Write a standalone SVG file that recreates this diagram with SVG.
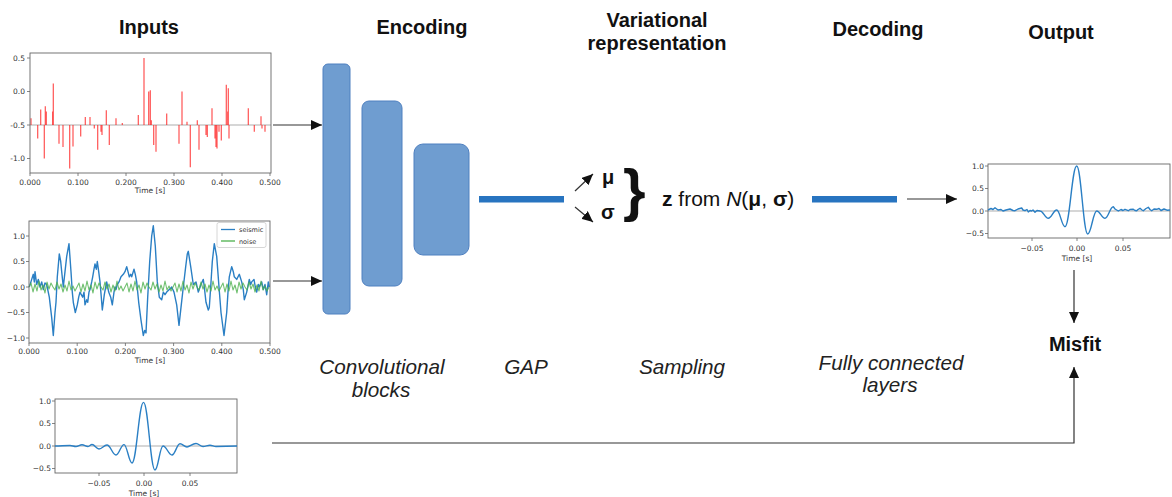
<svg xmlns="http://www.w3.org/2000/svg" xmlns:xlink="http://www.w3.org/1999/xlink" width="1172" height="497" viewBox="0 0 1172 497">
<style>
.tick{font-family:"DejaVu Sans",sans-serif;font-size:7.5px;fill:#333}
.r{text-anchor:end}
.c{text-anchor:middle}
.frame{fill:none;stroke:#666;stroke-width:0.9}
.tm{stroke:#666;stroke-width:0.8}
.zero{stroke:#c8c8c8;stroke-width:1.3}
.title{font-family:"Liberation Sans",Arial,sans-serif;font-weight:bold;font-size:20px;fill:#111;text-anchor:middle}
.lab{font-family:"Liberation Sans",Arial,sans-serif;font-style:italic;font-size:20.7px;fill:#222;text-anchor:middle}
.blk{fill:#6f9dd0;stroke:#4f80c0;stroke-width:1}
.bar{stroke:#2874c0;stroke-width:6.5}
.wave{fill:none;stroke:#2a7fc4;stroke-width:1.4;stroke-linejoin:round}
.conn{fill:none;stroke:#333;stroke-width:1.2}
.math{font-family:"Liberation Sans",Arial,sans-serif;fill:#111}
</style>
<defs>
<marker id="ah" markerUnits="userSpaceOnUse" markerWidth="12" markerHeight="10" refX="11" refY="5" orient="auto">
<path d="M0,0 L11,5 L0,10 z" fill="#111"/>
</marker>
<g id="wavAxes">
<line class="zero" x1="55" y1="446" x2="237" y2="446"/>
<rect class="frame" x="55" y="399" width="182" height="74"/>
<path class="tm" d="M52,401H55M52,423.5H55M52,446H55M52,468.5H55M99,473V476M144,473V476M190,473V476"/>
<text class="tick r" x="51" y="403.7">1.0</text>
<text class="tick r" x="51" y="426.2">0.5</text>
<text class="tick r" x="51" y="448.7">0.0</text>
<text class="tick r" x="51" y="471.2">−0.5</text>
<text class="tick c" x="99" y="486">−0.05</text>
<text class="tick c" x="144" y="486">0.00</text>
<text class="tick c" x="190" y="486">0.05</text>
<text class="tick c" x="144" y="495.5">Time [s]</text>
</g>
</defs>
<rect width="1172" height="497" fill="#fff"/>

<g id="titles">
<text class="title" x="149" y="34">Inputs</text>
<text class="title" x="422" y="34">Encoding</text>
<text class="title" x="657" y="26.5">Variational</text>
<text class="title" x="657" y="50">representation</text>
<text class="title" x="878" y="36">Decoding</text>
<text class="title" x="1061" y="38.5">Output</text>
</g>

<g id="input-reflectivity">
<line class="zero" x1="30" y1="125" x2="271" y2="125"/>
<path fill="none" stroke="#ff1a1a" stroke-opacity="0.75" stroke-width="1.2" d="M31,125V118.3M37.7,125V138.4M40.7,125V109.6M44.3,125V158.5M45.3,125V106.2M46.3,125V111.6M53.3,125V83.5M52.6,125V111.6M59,125V143.8M63,125V147.1M69.7,125V168.5M73,125V146.4M80.7,125V136.4M85.3,125V117M90,125V117M94.3,125V128.4M97.7,125V149.8M101,125V131.7M102,125V135M106.3,125V110.3M109.3,125V145.1M116,125V118.3M122.3,125V123M138.3,125V115M144,125V58M148.7,125V91.5M150.3,125V90.2M151.3,125V120.3M153.7,125V145.1M156,125V151.8M166.7,125V113.6M179,125V143.8M182,125V91.5M187,125V121.7M190.3,125V167.2M197.3,125V120.3M199,125V149.8M206,125V135M207.3,125V137M212,125V108.3M215,125V138.4M216,125V147.1M217,125V148.5M219,125V131.7M221.3,125V140.4M226.3,125V84.8M227.7,125V111.6M229,125V138.4M228.3,125V88.2M248.3,125V108.3M254.3,125V131.7M261,125V116.3M262,125V128.4M265,125V131.7"/>
<rect class="frame" x="30" y="53" width="241" height="120"/>
<path class="tm" d="M27,58H30M27,91.5H30M27,125H30M27,158.5H30M30,173V176M78,173V176M126,173V176M174,173V176M222,173V176M270,173V176"/>
<text class="tick r" x="25" y="60.7">0.5</text>
<text class="tick r" x="25" y="94.2">0.0</text>
<text class="tick r" x="25" y="127.7">-0.5</text>
<text class="tick r" x="25" y="161.2">-1.0</text>
<text class="tick c" x="30" y="185">0.000</text>
<text class="tick c" x="78" y="185">0.100</text>
<text class="tick c" x="126" y="185">0.200</text>
<text class="tick c" x="174" y="185">0.300</text>
<text class="tick c" x="222" y="185">0.400</text>
<text class="tick c" x="270" y="185">0.500</text>
<text class="tick c" x="150" y="192.5">Time [s]</text>
</g>

<g id="input-seismic">
<polyline class="wave" stroke-width="1.15" points="29.3,287 31.7,279.4 33.3,274.3 34.3,282 35,271.7 36.7,284.5 38.3,279.4 40,287 41.7,281.9 43.3,289.5 45,283 46.7,284.5 49.3,297.2 51.7,317.6 53.3,335.5 55,312.5 56,302.3 57.3,276.8 59.3,253.9 60.7,261.5 61.7,271.7 63.3,287 65,271.7 66.7,256.4 69,243.7 71,271.7 72.3,292.1 73.3,302.3 75.3,312.5 77.3,304.9 78.7,297.2 80,292.1 81.3,294.7 82.7,297.2 84,292.1 85,304.9 86.7,299.8 87.7,302.3 89,292.1 90,289.6 91.7,281.9 92.7,276.8 94,269.2 95,264 96.3,269.2 97.3,261.5 98.7,271.7 100,281.9 101.3,297.2 102.3,310 103.3,302.3 104.3,294.7 105.7,287 106.7,281.9 107.7,287 108.7,292.1 110.7,297.2 112.3,304.9 114,292.1 115,287 116,289.6 117.3,284.5 119,281.9 121,276.8 123.3,274.3 125,271.7 126.7,266.6 128,271.7 129.3,276.8 130.7,274.3 131.7,276.8 134,269.2 135.3,274.3 136.7,281.9 138.7,302.3 141,320.2 143.3,335.5 144.7,330.4 146,332.9 147.7,297.2 149.7,261.5 151.7,236 153.3,225.8 155.3,246.2 157.3,281.9 159.3,297.2 161.7,299.8 163.3,292.1 165,294.7 166.7,292.1 169.3,289.6 171.7,287 174,292.1 176.7,304.9 179,325.3 181,307.4 183.3,287 185.7,266.6 187.3,253.9 188.3,251.3 190.7,266.6 193.3,284.5 196,281.9 198.3,292.1 201,284.5 203.3,279.4 204.3,287 206,302.3 208.3,310 209.3,307.4 210.7,287 212.3,261.5 214.3,243.7 216.7,256.4 219,287 221,312.5 224,335.5 226.7,312.5 228,292.1 229.3,276.8 231.7,266.6 233.3,271.7 234.3,276.8 236.7,279.4 239.3,274.3 241.7,281.9 243.3,289.6 244.3,299.8 246.7,292.1 248.3,284.5 249.3,279.4 250.7,284.5 251.7,281.9 254,279.4 255.3,287 256.7,292.1 258.3,284.5 259.3,287 261.7,281.9 263.3,289.6 265,284.5 266.7,294.7 268.3,281.9 269.3,287"/>
<path fill="none" stroke="#4cb04c" stroke-opacity="0.8" stroke-width="1.1" stroke-linejoin="round" d="M29,287 l2,-4 2,9 2,-8 2,7 2,-10 2,9 2,-5 2,8 2,-11 2,7 2,-6 2,4 2,3 2,-8 2,7 2,-5 2,8 2,-7 2,6 2,-10 2,9 2,-4 2,5 2,-4 2,-4 2,9 2,-8 2,7 2,-10 2,9 2,-5 2,8 2,-11 2,7 2,-6 2,4 2,3 2,-8 2,7 2,-5 2,8 2,-7 2,6 2,-10 2,9 2,-4 2,5 2,-4 2,-4 2,9 2,-8 2,7 2,-10 2,9 2,-5 2,8 2,-11 2,7 2,-6 2,4 2,3 2,-8 2,7 2,-5 2,8 2,-7 2,6 2,-10 2,9 2,-4 2,5 2,-4 2,-4 2,9 2,-8 2,7 2,-10 2,9 2,-5 2,8 2,-11 2,7 2,-6 2,4 2,3 2,-8 2,7 2,-5 2,8 2,-7 2,6 2,-10 2,9 2,-4 2,5 2,-4 2,-4 2,9 2,-8 2,7 2,-10 2,9 2,-5 2,8 2,-11 2,7 2,-6 2,4 2,3 2,-8 2,7 2,-5 2,8 2,-7 2,6 2,-10 2,9 2,-4 2,5 2,-4"/>
<rect class="frame" x="29" y="221" width="241" height="122"/>
<path class="tm" d="M26,236H29M26,261.5H29M26,287H29M26,312.5H29M26,338H29M29,343V346M77.2,343V346M125.4,343V346M173.6,343V346M221.8,343V346M270,343V346"/>
<text class="tick r" x="25" y="238.7">1.0</text>
<text class="tick r" x="25" y="264.2">0.5</text>
<text class="tick r" x="25" y="289.7">0.0</text>
<text class="tick r" x="25" y="315.2">−0.5</text>
<text class="tick r" x="25" y="340.7">−1.0</text>
<text class="tick c" x="29" y="354">0.000</text>
<text class="tick c" x="77.2" y="354">0.100</text>
<text class="tick c" x="125.4" y="354">0.200</text>
<text class="tick c" x="173.6" y="354">0.300</text>
<text class="tick c" x="221.8" y="354">0.400</text>
<text class="tick c" x="270" y="354">0.500</text>
<text class="tick c" x="150" y="363">Time [s]</text>
<rect x="217" y="222.5" width="49" height="25" rx="2" fill="#fff" fill-opacity="0.9" stroke="#ccc" stroke-width="0.8"/>
<line x1="221" y1="229.5" x2="235" y2="229.5" stroke="#2a7fc4" stroke-width="1.3"/>
<text class="tick" x="239" y="232" style="font-size:6.5px">seismic</text>
<line x1="221" y1="241" x2="235" y2="241" stroke="#4cb04c" stroke-width="1.3"/>
<text class="tick" x="239" y="243.5" style="font-size:6.5px">noise</text>
</g>

<g id="input-wavelet">
<use xlink:href="#wavAxes" href="#wavAxes"/>
<path class="wave" d="M55,446 C61,446 64,445.5 70,445.5 C72.4,445.5 73.6,446.5 76,446.5 C78.4,446.5 79.6,444.8 82,444.8 C84.4,444.8 85.6,446.5 88,446.5 C89.6,446.5 90.4,444.5 92,444.5 C94.8,444.5 96.2,449 99,449 C102.2,449 103.8,445 107,445 C110.6,445 112.4,455 116,455 C119.2,455 120.8,444.6 124,444.6 C127.2,444.6 128.8,463 132,463 C136.6,463 138.9,402.4 143.5,402.4 C148.1,402.4 150.4,470 155,470 C158.2,470 159.8,446 163,446 C166.6,446 168.4,455 172,455 C175.2,455 176.8,443.8 180,443.8 C182.8,443.8 184.2,447 187,447 C189.6,447 192.4,443.5 196,443.5 C198.8,443.5 200.2,446.5 203,446.5 C205.8,446.5 207.2,445.2 210,445.2 C212.4,445.2 213.6,446.5 216,446.5 L237,446"/>
</g>

<g id="encoder">
<rect class="blk" x="323" y="64" width="27" height="250" rx="5"/>
<rect class="blk" x="362" y="101" width="40" height="185" rx="7"/>
<rect class="blk" x="414" y="144" width="55" height="111" rx="9"/>
</g>

<g id="gap">
<line class="bar" x1="479" y1="199.3" x2="564" y2="199.3"/>
</g>

<g id="variational">
<text class="math" x="602" y="184" font-weight="bold" font-size="20">μ</text>
<text class="math" x="601" y="219" font-weight="bold" font-size="20">σ</text>
<text class="math" x="623" y="210" font-weight="bold" font-size="58">}</text>
<text class="math" x="662" y="205.5" font-size="21"><tspan font-weight="bold">z</tspan> from <tspan font-style="italic">N</tspan>(<tspan font-weight="bold">μ</tspan>, <tspan font-weight="bold">σ</tspan>)</text>
</g>

<g id="decoder">
<line class="bar" x1="812" y1="199.3" x2="897" y2="199.3"/>
</g>

<g id="output-plot">
<use xlink:href="#wavAxes" href="#wavAxes" transform="translate(933,-235)"/>
<path class="wave" transform="translate(933,-235)" d="M55,445 L58,443.5 L60,444.5 L62,442.7 L65,445 L68,444.5 L70,446 L73,445 L77,444 L80,445.5 L82,445.7 L85,444 L88.7,443 L90,445 L92,445.7 L94,444.5 L95.3,447 L97,445.5 L98.7,446 L100,445 L102,447.3 L104,445.5 L107,446 C110.3,446 112,453.3 115.3,453.3 C118.6,453.3 120.4,445 123.7,445 C127,445 128.7,461.7 132,461.7 C136.7,461.7 139,401 143.7,401 C148.1,401 150.3,469 154.7,469 C158.3,469 160.1,446 163.7,446 C167,446 168.7,453.3 172,453.3 C175.3,453.3 177,441.7 180.3,441.7 L182,444 L185.3,446 L188,444.5 L190,445.5 L192,444.3 L195.3,445.7 L197,444.5 L200.3,444.3 L202,445.5 L203.7,445.7 L205,444.5 L207,443.3 L209,445 L210.3,445.7 L213,443.5 L215.3,442.3 L217,444.5 L218.7,445.7 L221,444 L223.7,444.3 L226,443.5 L228,445.5 L231,444 L234,445.2 L237,445"/>
</g>

<g id="misfit">
<text class="title" x="1075" y="351" style="font-size:20px">Misfit</text>
</g>

<g id="labels">
<text class="lab" x="382" y="374">Convolutional</text>
<text class="lab" x="381" y="397">blocks</text>
<text class="lab" x="526" y="374">GAP</text>
<text class="lab" x="682" y="374">Sampling</text>
<text class="lab" x="891" y="370">Fully connected</text>
<text class="lab" x="890" y="392">layers</text>
</g>

<g id="connectors">
<line class="conn" x1="273" y1="125" x2="322" y2="125" marker-end="url(#ah)"/>
<line class="conn" x1="273" y1="281" x2="322" y2="281" marker-end="url(#ah)"/>
<line class="conn" x1="575" y1="191" x2="593" y2="174" marker-end="url(#ah)"/>
<line class="conn" x1="575" y1="207" x2="593" y2="222" marker-end="url(#ah)"/>
<line class="conn" x1="907" y1="199" x2="957" y2="199" marker-end="url(#ah)"/>
<line class="conn" x1="1074" y1="270" x2="1074" y2="323" marker-end="url(#ah)"/>
<polyline class="conn" points="272,443 1074,443 1074,367" marker-end="url(#ah)"/>
</g>
</svg>
